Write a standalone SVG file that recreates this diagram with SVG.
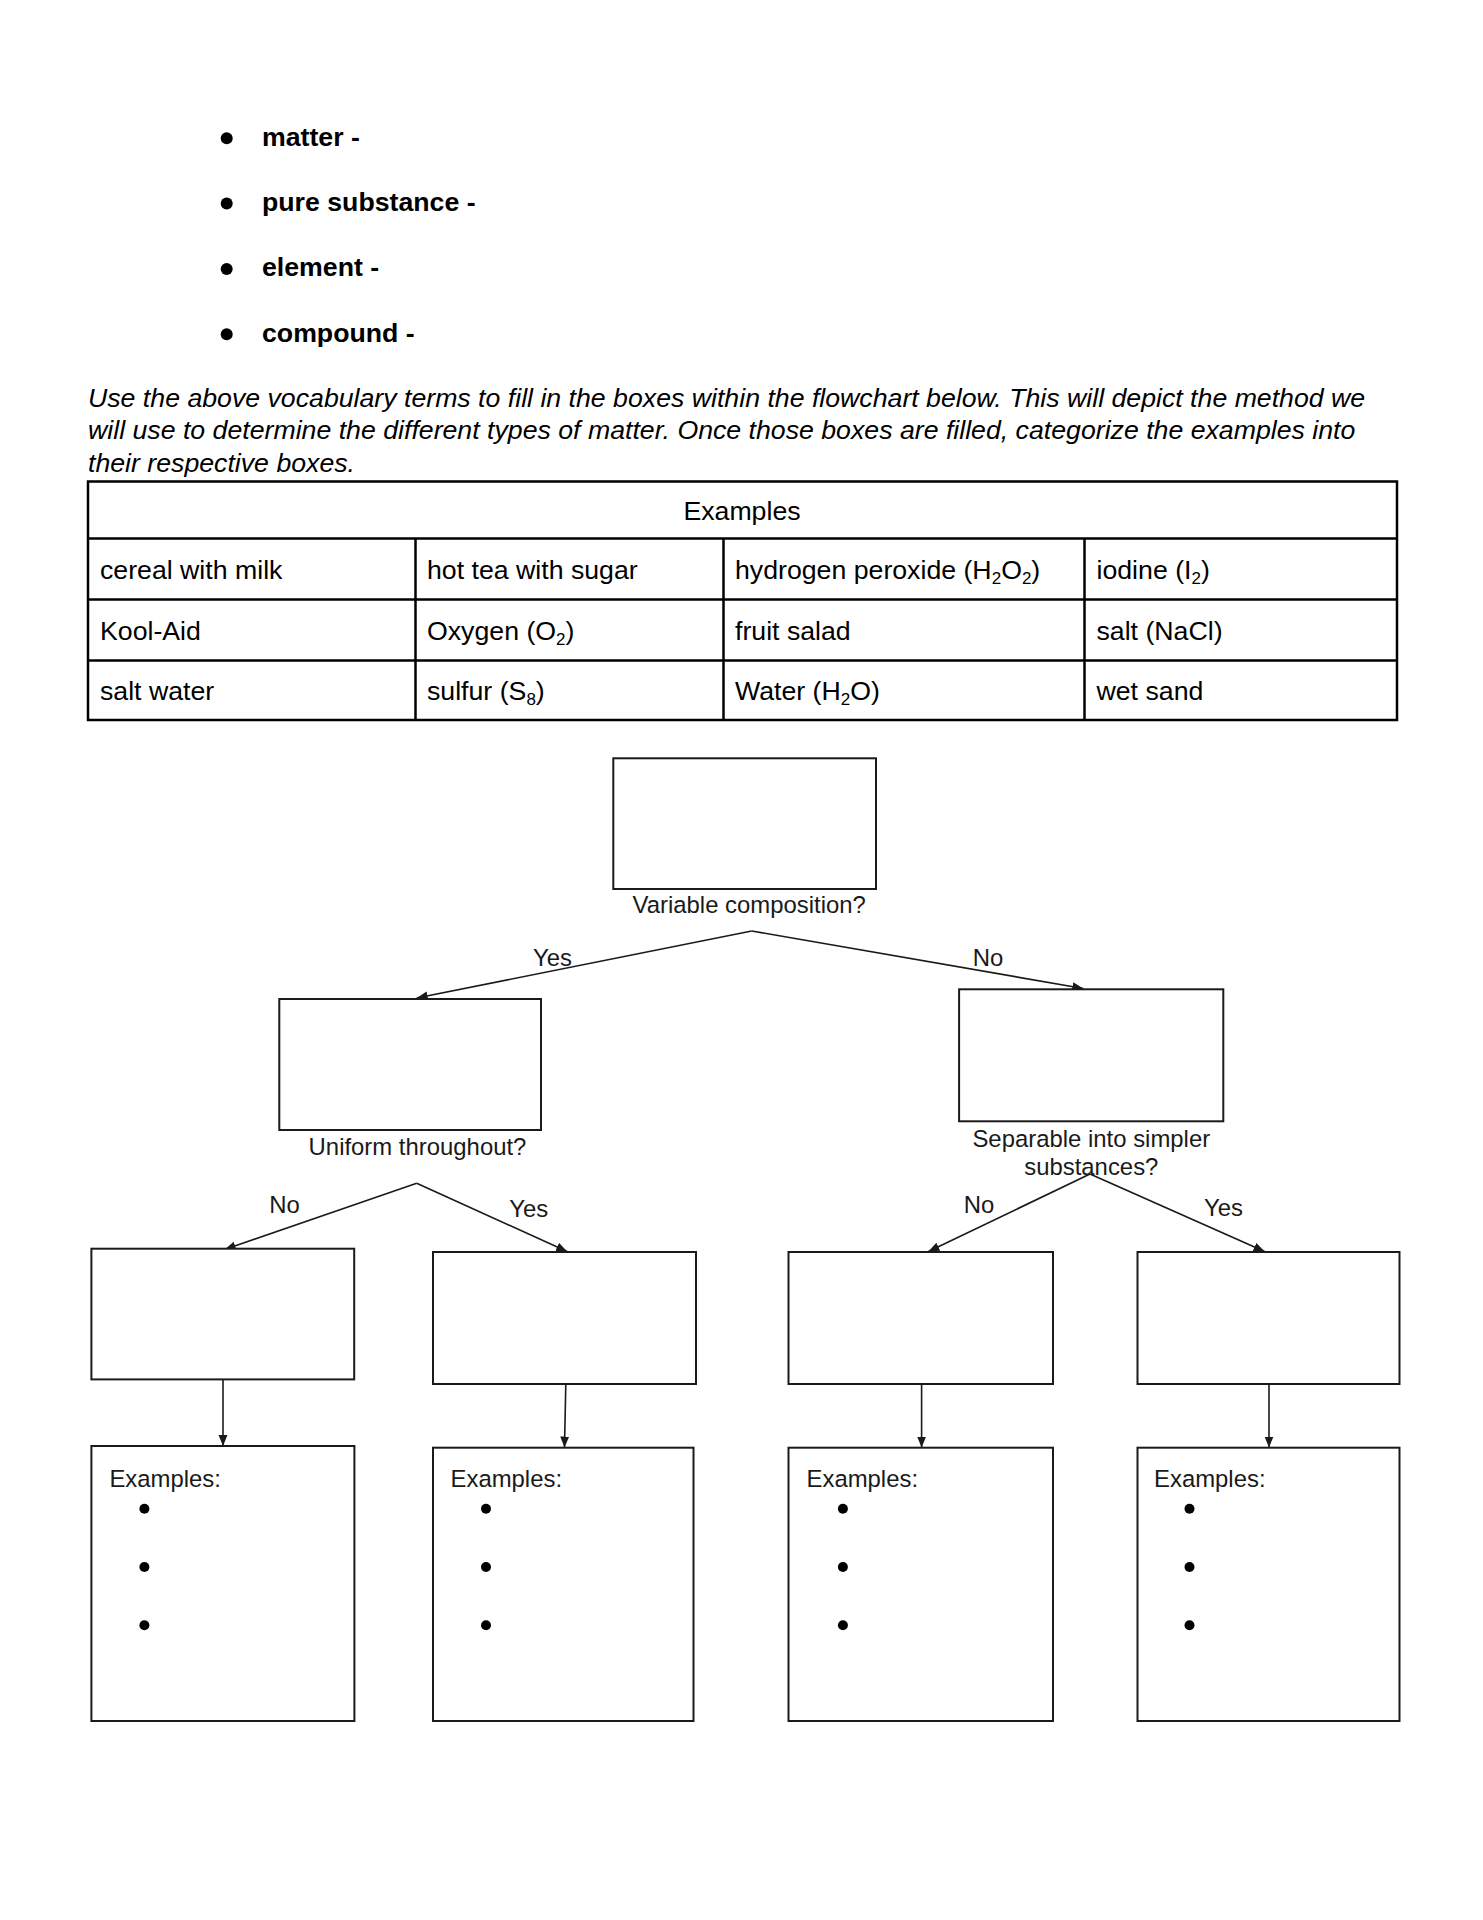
<svg xmlns="http://www.w3.org/2000/svg" width="1483" height="1920" viewBox="0 0 1483 1920">
<style>
.vocab{font-family:"Liberation Sans",Arial,sans-serif;font-size:26.7px;font-weight:bold;fill:#000}
.para{font-family:"Liberation Sans",Arial,sans-serif;font-size:26.7px;font-style:italic;fill:#000}
.cell{font-family:"Liberation Sans",Arial,sans-serif;font-size:26.7px;fill:#000}
.sub{font-size:17px}
.grid{stroke:#000;stroke-width:2.5;fill:none}
.box{fill:#fff;stroke:#1a1a1a;stroke-width:2}
.lbl{font-family:"Liberation Sans",Arial,sans-serif;font-size:23.9px;fill:#1a1a1a}
.mid{text-anchor:middle}
.dot{fill:#000}
.conn{stroke:#1a1a1a;stroke-width:1.6;fill:none;marker-end:url(#arr)}
</style>
<defs>
<marker id="arr" markerUnits="userSpaceOnUse" markerWidth="12" markerHeight="10" refX="11" refY="4.5" orient="auto"><path d="M0,0 L11,4.5 L0,9 z" fill="#1a1a1a"/></marker>
</defs>
<rect x="0" y="0" width="1483" height="1920" fill="#fff"/>

<g id="vocabulary">
<circle class="dot" cx="226.7" cy="138.3" r="6"/>
<text class="vocab" x="262" y="145.7">matter -</text>
<circle class="dot" cx="226.7" cy="203.6" r="6"/>
<text class="vocab" x="262" y="211">pure substance -</text>
<circle class="dot" cx="226.7" cy="268.9" r="6"/>
<text class="vocab" x="262" y="276.3">element -</text>
<circle class="dot" cx="226.7" cy="334.2" r="6"/>
<text class="vocab" x="262" y="341.6">compound -</text>
</g>

<g id="instructions">
<text class="para" x="88" y="406.7">Use the above vocabulary terms to fill in the boxes within the flowchart below. This will depict the method we</text>
<text class="para" x="88" y="439.3">will use to determine the different types of matter. Once those boxes are filled, categorize the examples into</text>
<text class="para" x="88" y="471.5">their respective boxes.</text>
</g>

<g id="examples-table">
<rect class="grid" x="88" y="481.5" width="1309" height="238.5"/>
<line class="grid" x1="88" y1="538.5" x2="1397" y2="538.5"/>
<line class="grid" x1="88" y1="599.5" x2="1397" y2="599.5"/>
<line class="grid" x1="88" y1="660.5" x2="1397" y2="660.5"/>
<line class="grid" x1="415.5" y1="538.5" x2="415.5" y2="720"/>
<line class="grid" x1="723.5" y1="538.5" x2="723.5" y2="720"/>
<line class="grid" x1="1084.5" y1="538.5" x2="1084.5" y2="720"/>
<text class="cell mid" x="742" y="520">Examples</text>
<text class="cell" x="100" y="579">cereal with milk</text>
<text class="cell" x="427" y="579">hot tea with sugar</text>
<text class="cell" x="735" y="579">hydrogen peroxide (H<tspan class="sub" dy="5">2</tspan><tspan dy="-5">O</tspan><tspan class="sub" dy="5">2</tspan><tspan dy="-5">)</tspan></text>
<text class="cell" x="1096.5" y="579">iodine (I<tspan class="sub" dy="5">2</tspan><tspan dy="-5">)</tspan></text>
<text class="cell" x="100" y="639.5">Kool-Aid</text>
<text class="cell" x="427" y="639.5">Oxygen (O<tspan class="sub" dy="5">2</tspan><tspan dy="-5">)</tspan></text>
<text class="cell" x="735" y="639.5">fruit salad</text>
<text class="cell" x="1096.5" y="639.5">salt (NaCl)</text>
<text class="cell" x="100" y="699.5">salt water</text>
<text class="cell" x="427" y="699.5">sulfur (S<tspan class="sub" dy="5">8</tspan><tspan dy="-5">)</tspan></text>
<text class="cell" x="735" y="699.5">Water (H<tspan class="sub" dy="5">2</tspan><tspan dy="-5">O)</tspan></text>
<text class="cell" x="1096.5" y="699.5">wet sand</text>
</g>

<g id="connectors">
<line class="conn" x1="751.7" y1="931" x2="416.7" y2="998"/>
<line class="conn" x1="751.7" y1="931" x2="1083.3" y2="988.5"/>
<line class="conn" x1="416.7" y1="1183.3" x2="224.7" y2="1249.5"/>
<line class="conn" x1="416.7" y1="1183.3" x2="567.2" y2="1251.5"/>
<line class="conn" x1="1090" y1="1174" x2="928.4" y2="1251.5"/>
<line class="conn" x1="1090" y1="1174" x2="1264.6" y2="1251.5"/>
<line class="conn" x1="223" y1="1379.5" x2="223" y2="1446"/>
<line class="conn" x1="565.8" y1="1384" x2="564.5" y2="1447.5"/>
<line class="conn" x1="921.6" y1="1384" x2="921.6" y2="1447.5"/>
<line class="conn" x1="1269" y1="1384" x2="1269" y2="1447.5"/>
<text class="lbl" x="533" y="965.7">Yes</text>
<text class="lbl" x="972.7" y="965.7">No</text>
<text class="lbl" x="269.3" y="1213.3">No</text>
<text class="lbl" x="509.3" y="1216.7">Yes</text>
<text class="lbl" x="963.8" y="1213.3">No</text>
<text class="lbl" x="1204" y="1216">Yes</text>
</g>

<g id="node-top">
<rect class="box" x="613.3" y="758.3" width="262.7" height="130.7"/>
<text class="lbl mid" x="749.2" y="912.7">Variable composition?</text>
</g>

<g id="node-yes">
<rect class="box" x="279.3" y="999" width="261.7" height="131"/>
<text class="lbl mid" x="417.5" y="1155">Uniform throughout?</text>
</g>

<g id="node-no">
<rect class="box" x="959.1" y="989.3" width="264.2" height="132"/>
<text class="lbl mid" x="1091.3" y="1146.7">Separable into simpler</text>
<text class="lbl mid" x="1091.3" y="1175">substances?</text>
</g>

<g id="node-ll">
<rect class="box" x="91.4" y="1248.7" width="262.8" height="130.7"/>
</g>
<g id="node-lr">
<rect class="box" x="433" y="1252" width="263" height="132"/>
</g>
<g id="node-rl">
<rect class="box" x="788.5" y="1252" width="264.5" height="132"/>
</g>
<g id="node-rr">
<rect class="box" x="1137.5" y="1252" width="262" height="132"/>
</g>

<g id="examples-ll">
<rect class="box" x="91.4" y="1446" width="263" height="275"/>
<text class="lbl" x="109.4" y="1486.7">Examples:</text>
<circle class="dot" cx="144.4" cy="1508.7" r="5"/>
<circle class="dot" cx="144.4" cy="1567" r="5"/>
<circle class="dot" cx="144.4" cy="1625.3" r="5"/>
</g>
<g id="examples-lr">
<rect class="box" x="433" y="1447.7" width="260.5" height="273.3"/>
<text class="lbl" x="450.5" y="1486.7">Examples:</text>
<circle class="dot" cx="486" cy="1508.7" r="5"/>
<circle class="dot" cx="486" cy="1567" r="5"/>
<circle class="dot" cx="486" cy="1625.3" r="5"/>
</g>
<g id="examples-rl">
<rect class="box" x="788.5" y="1447.7" width="264.5" height="273.3"/>
<text class="lbl" x="806.5" y="1486.7">Examples:</text>
<circle class="dot" cx="842.9" cy="1508.7" r="5"/>
<circle class="dot" cx="842.9" cy="1567" r="5"/>
<circle class="dot" cx="842.9" cy="1625.3" r="5"/>
</g>
<g id="examples-rr">
<rect class="box" x="1137.5" y="1447.7" width="262" height="273.3"/>
<text class="lbl" x="1154" y="1486.7">Examples:</text>
<circle class="dot" cx="1189.5" cy="1508.7" r="5"/>
<circle class="dot" cx="1189.5" cy="1567" r="5"/>
<circle class="dot" cx="1189.5" cy="1625.3" r="5"/>
</g>
</svg>
